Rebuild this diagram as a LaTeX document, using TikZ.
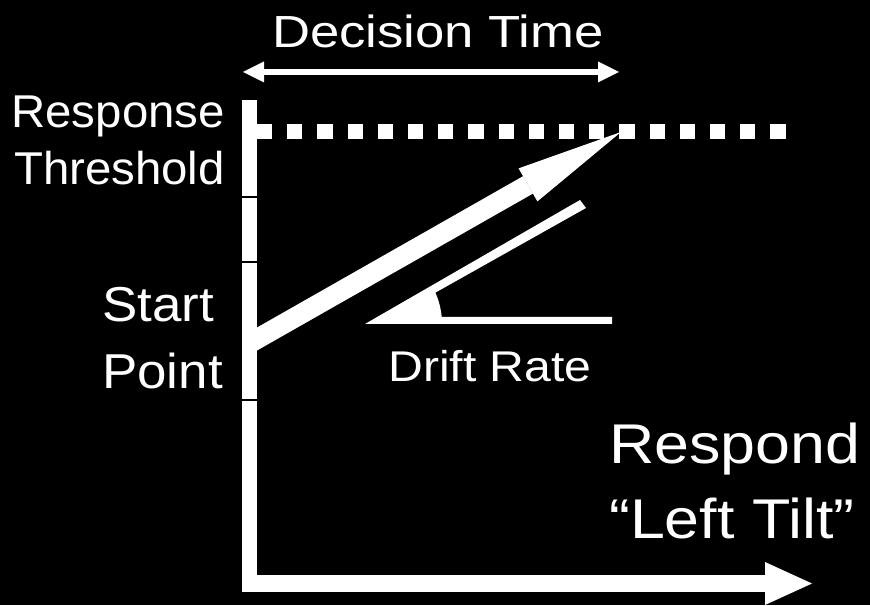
\documentclass[tikz,border=0pt]{standalone}
\usepackage{fontspec}
\setmainfont{Liberation Sans}
\usetikzlibrary{arrows.meta}
\begin{document}
\begin{tikzpicture}[x=1pt,y=1pt,
  lbl/.style={text=white,inner sep=0pt}]
\pgfmathsetmacro{\thr}{473}
\pgfmathsetmacro{\base}{21.5}
\fill[black](0,0) rectangle (870,605);
\useasboundingbox(0,0) rectangle (870,605);
% evidence axis and time axis
\coordinate (top) at (242,505);
\coordinate (org) at (242,\base);
\coordinate (tend) at (812,\base);
\fill[white](top) rectangle (257,13);
\foreach \t in {408,343,205}
  \draw[black,line width=1.6pt](242,\t)--(257,\t);
\draw[white,line width=17pt,-{Triangle[length=47pt,width=43pt,line width=0pt]}](org)--(tend);
% threshold
\coordinate (ths) at (257,\thr);
\coordinate (the) at (786,\thr);
\draw[white,line width=15pt,dash pattern=on 15.1pt off 15.1pt](ths)--(the);
% decision time
\coordinate (dl) at (243,533);
\coordinate (dr) at (619,533);
\draw[white,line width=6.5pt,{Triangle[length=21pt,width=21pt,line width=0pt]}-{Triangle[length=21pt,width=21pt,line width=0pt]}](dl)--(dr);
\node[lbl,anchor=base,xscale=1.17,font=\fontsize{45}{54}\selectfont](dtime) at (438,557){Decision Time};
% accumulation path
\coordinate (sp) at (250,262);
\coordinate (hit) at (621,\thr);
\draw[white,line width=20pt,-{Triangle[length=107pt,width=38pt,line width=0pt]}](sp)--(hit);
% drift rate wedge
\coordinate (v) at (365,281);
\fill[white](v)--(612,281)--(612,288)--(441.7,288)
  arc[start angle=5.2,end angle=24,radius=77pt]--(586,397)--(580,405)--cycle;
% labels
\node[lbl,anchor=base east,xscale=1.03,font=\fontsize{46}{57}\selectfont](resp) at (225,477){Response};
\node[lbl,anchor=base east,xscale=1.03,font=\fontsize{46}{57}\selectfont](thresh) at (225,420){Threshold};
\node[lbl,anchor=base west,xscale=1.08,font=\fontsize{49}{60}\selectfont](start) at (102,283){Start};
\node[lbl,anchor=base west,xscale=1.08,font=\fontsize{49}{60}\selectfont](point) at (102,216){Point};
\node[lbl,anchor=base west,xscale=1.12,font=\fontsize{43}{52}\selectfont](drift) at (388,223){Drift Rate};
\node[lbl,anchor=base west,xscale=1.12,font=\fontsize{56}{68}\selectfont](rsp) at (609,141){Respond};
\node[lbl,anchor=base west,xscale=1.12,font=\fontsize{56}{68}\selectfont](tilt) at (609,66){“Left Tilt”};
\end{tikzpicture}
\end{document}
